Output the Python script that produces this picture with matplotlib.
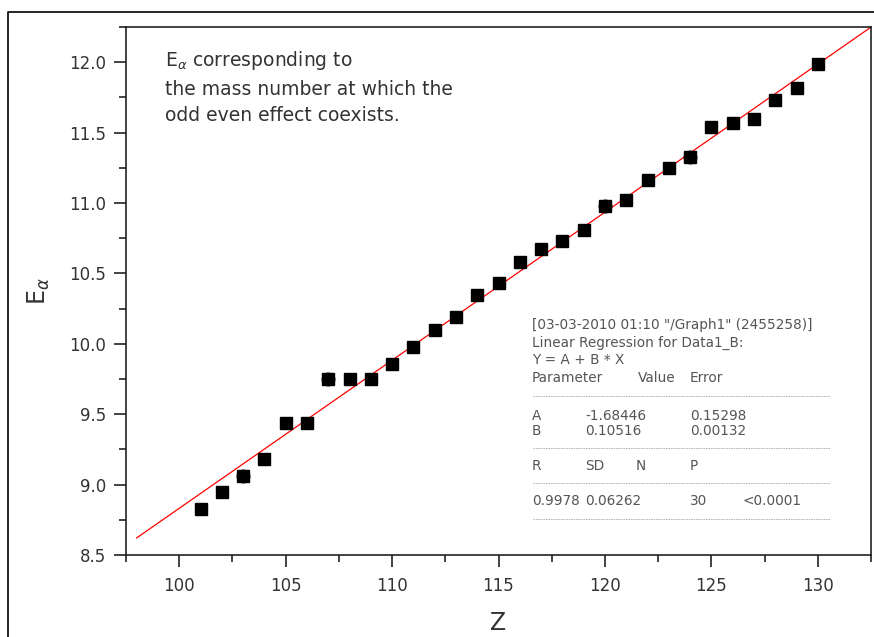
import numpy as np
import matplotlib.pyplot as plt
from matplotlib.lines import Line2D
from matplotlib.ticker import MultipleLocator

plt.rcParams['font.family'] = ['DejaVu Sans']

# data
Z = np.arange(101, 131)
E = [8.83, 8.95, 9.06, 9.18, 9.44, 9.44, 9.75, 9.75, 9.75, 9.86,
     9.98, 10.10, 10.19, 10.35, 10.43, 10.58, 10.67, 10.73, 10.81, 10.98,
     11.02, 11.16, 11.25, 11.33, 11.54, 11.57, 11.60, 11.73, 11.82, 11.99]
Z_circ = [103, 107, 120, 124]
E_circ = [9.06, 9.75, 10.98, 11.33]

A, B = -1.68446, 0.10516
fit_x = np.array([98.0, 132.5])

fig = plt.figure(figsize=(8.74, 6.37), dpi=100)
ax = fig.add_axes([126 / 874, 1 - 555 / 637, 745 / 874, 528 / 637])

ax.plot(fit_x, A + B * fit_x, color='red', lw=0.9)
ax.plot(Z, E, 's', color='black', ms=8)
ax.plot(Z_circ, E_circ, 'o', color='black', ms=9)

ax.set_xlim(97.5, 132.5)
ax.set_ylim(8.5, 12.25)
ax.xaxis.set_major_locator(MultipleLocator(5))
ax.xaxis.set_minor_locator(MultipleLocator(2.5))
ax.yaxis.set_major_locator(MultipleLocator(0.5))
ax.yaxis.set_minor_locator(MultipleLocator(0.25))
ax.tick_params(which='both', direction='out', color='#222222', width=1.2)
ax.tick_params(which='major', length=8.5, labelsize=12, labelcolor='#333333', pad=6)
ax.tick_params(axis='x', which='major', pad=7)
ax.tick_params(which='minor', length=5)
for s in ax.spines.values():
    s.set_linewidth(1.2)
    s.set_color('#222222')

ax.set_xlabel('Z', fontsize=17, color='#333333', labelpad=12)
ax.set_ylabel(r'E$_{\alpha}$', fontsize=17, color='#333333', labelpad=12)

ax.text(0.052, 0.958, r'E$_{\alpha}$ corresponding to' + '\nthe mass number at which the\nodd even effect coexists.',
        transform=ax.transAxes, fontsize=13.5, color='#333333', va='top', linespacing=1.5)

# regression report
gray = '#555555'
fs = 9.8
def tx(xpix, ypix, s):
    fig.text(xpix / 874, 1 - ypix / 637, s, fontsize=fs, color=gray, va='center')

tx(532, 325, '[03-03-2010 01:10 "/Graph1" (2455258)]')
tx(532, 343, 'Linear Regression for Data1_B:')
tx(532, 360, 'Y = A + B * X')
tx(532, 378, 'Parameter')
tx(638, 378, 'Value')
tx(690, 378, 'Error')
tx(532, 416, 'A')
tx(585, 416, '-1.68446')
tx(690, 416, '0.15298')
tx(532, 431, 'B')
tx(585, 431, '0.10516')
tx(690, 431, '0.00132')
tx(532, 466, 'R')
tx(585, 466, 'SD')
tx(636, 466, 'N')
tx(690, 466, 'P')
tx(532, 501, '0.9978')
tx(585, 501, '0.06262')
tx(690, 501, '30')
tx(742, 501, '<0.0001')
for yp in [396, 448, 483, 519]:
    fig.add_artist(Line2D([533 / 874, 830 / 874], [1 - yp / 637] * 2,
                          color='#aaaaaa', lw=0.6, ls=(0, (2, 1))))

# outer frame
fig.add_artist(Line2D([8 / 874, 8 / 874, 1.0], [0.0, 1 - 12 / 637, 1 - 12 / 637],
                      color='black', lw=1.2))

fig.savefig('out.png', dpi=100)
